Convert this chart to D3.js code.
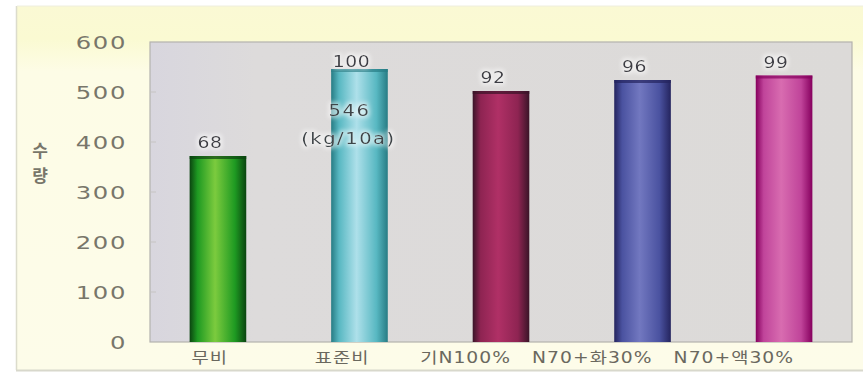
<!DOCTYPE html>
<html>
<head>
<meta charset="utf-8">
<script src="https://cdn.jsdelivr.net/npm/d3@7"></script>
<style>
  html, body { margin: 0; padding: 0; background: #ffffff; }
  svg { display: block; }
  text { font-family: "DejaVu Sans", "Noto Sans CJK KR", sans-serif; }
</style>
</head>
<body>
<svg id="chart" width="863" height="378"></svg>
<script>
// Yield per treatment (kg/10a) and yield index relative to the standard plot
const categories = ["무비", "표준비", "기N100%", "N70+화30%", "N70+액30%"];
const yields = [372, 546, 502, 524, 533];
const indexLabels = ["68", "100", "92", "96", "99"];
const yTicks = [0, 100, 200, 300, 400, 500, 600];
// Cylinder shading per bar: [edge, body, highlight]
const barShades = [
  ["#0b4410", "#1e9a22", "#7ccb3e"],
  ["#277c84", "#58b8c2", "#aee0ea"],
  ["#3a1428", "#8e2452", "#b03066"],
  ["#24245e", "#4a52a0", "#7278c0"],
  ["#86005e", "#c0449a", "#d86cb0"]
];

const svg = d3.select("#chart");
const W = 863, H = 378;
const plot = { left: 150, right: 852, top: 42, bottom: 342 };

const defs = svg.append("defs");

// text drawn with horizontally widened glyphs
function wideText(parent, data, opts) {
  const g = parent.append("g")
    .attr("fill", opts.fill)
    .attr("font-size", opts.size)
    .attr("letter-spacing", opts.ls || 0);
  if (opts.filter) g.attr("filter", opts.filter);
  g.selectAll("g").data(data).join("g")
    .attr("transform", (d, i) => `translate(${opts.x(d, i)},${opts.y(d, i)}) scale(${opts.sx},1)`)
    .append("text")
    .attr("text-anchor", opts.anchor || "middle")
    .text((d, i) => opts.text(d, i));
  return g;
}

// outer panel: cream card with a yellow band fading down from the top
const band = defs.append("linearGradient").attr("id", "band")
  .attr("x1", 0).attr("y1", 0).attr("x2", 0).attr("y2", 1);
band.append("stop").attr("offset", 0).attr("stop-color", "#faf9d4");
band.append("stop").attr("offset", 0.09).attr("stop-color", "#fafad2");
band.append("stop").attr("offset", 0.18).attr("stop-color", "#fdfce6");
band.append("stop").attr("offset", 1).attr("stop-color", "#fdfce9");

svg.append("rect").attr("x", 0).attr("y", 0).attr("width", W).attr("height", H).attr("fill", "#ffffff");
svg.append("rect").attr("x", 17).attr("y", 6).attr("width", W - 17).attr("height", 364)
  .attr("fill", "url(#band)");
svg.append("line").attr("x1", 16.5).attr("x2", 16.5).attr("y1", 6).attr("y2", 370)
  .attr("stroke", "#dcdccc").attr("stroke-width", 1.5);
svg.append("line").attr("x1", 16).attr("x2", W).attr("y1", 370.5).attr("y2", 370.5)
  .attr("stroke", "#d8d8cc").attr("stroke-width", 2);
svg.append("line").attr("x1", 17).attr("x2", W).attr("y1", 6).attr("y2", 6)
  .attr("stroke", "#eeeede").attr("stroke-width", 1);

// plot area
const plotBg = defs.append("linearGradient").attr("id", "plotbg")
  .attr("x1", 0).attr("y1", 0).attr("x2", 1).attr("y2", 0);
plotBg.append("stop").attr("offset", 0).attr("stop-color", "#d8d6de");
plotBg.append("stop").attr("offset", 0.15).attr("stop-color", "#dddbdb");
plotBg.append("stop").attr("offset", 1).attr("stop-color", "#dcdad8");

svg.append("rect")
  .attr("x", plot.left).attr("y", plot.top)
  .attr("width", plot.right - plot.left).attr("height", plot.bottom - plot.top)
  .attr("fill", "url(#plotbg)")
  .attr("stroke", "#b4b2ae").attr("stroke-width", 1.2);

const x = d3.scaleBand()
  .domain(categories)
  .range([plot.left, plot.right])
  .paddingInner(0.6)
  .paddingOuter(0.28);

const y = d3.scaleLinear().domain([0, 600]).range([plot.bottom, plot.top]);

// faint tick marks along the inside of the left edge
svg.append("g").selectAll("line").data(yTicks.slice(1, -1)).join("line")
  .attr("x1", plot.left + 1).attr("x2", plot.left + 6)
  .attr("y1", d => y(d)).attr("y2", d => y(d))
  .attr("stroke", "#c6c4c2").attr("stroke-width", 1);

// y tick labels
wideText(svg, yTicks, {
  x: () => 127, y: d => y(d) + 6.5, sx: 1.35, anchor: "end",
  size: 18, ls: 1.2, fill: "#78766a", text: d => d
});

// y axis title, stacked vertically
svg.append("g").selectAll("text").data(["수", "량"]).join("text")
  .attr("x", 40).attr("y", (d, i) => 157 + i * 25)
  .attr("text-anchor", "middle")
  .attr("font-size", 17).attr("font-weight", "bold")
  .attr("fill", "#78766a")
  .text(d => d);

// bar gradients
barShades.forEach((s, i) => {
  const g = defs.append("linearGradient").attr("id", "bar" + i)
    .attr("x1", 0).attr("y1", 0).attr("x2", 1).attr("y2", 0);
  g.append("stop").attr("offset", 0).attr("stop-color", s[0]);
  g.append("stop").attr("offset", 0.14).attr("stop-color", s[1]);
  g.append("stop").attr("offset", 0.45).attr("stop-color", s[2]);
  g.append("stop").attr("offset", 0.8).attr("stop-color", s[1]);
  g.append("stop").attr("offset", 1).attr("stop-color", s[0]);
});

const bars = svg.append("g");
bars.selectAll("rect.bar").data(yields).join("rect")
  .attr("class", "bar")
  .attr("x", (d, i) => x(categories[i]))
  .attr("y", d => y(d))
  .attr("width", x.bandwidth())
  .attr("height", d => y(0) - y(d))
  .attr("fill", (d, i) => `url(#bar${i})`);

// darker cap along each bar top
bars.selectAll("rect.cap").data(yields).join("rect")
  .attr("class", "cap")
  .attr("x", (d, i) => x(categories[i]))
  .attr("y", d => y(d))
  .attr("width", x.bandwidth())
  .attr("height", 3)
  .attr("fill", (d, i) => barShades[i][0])
  .attr("opacity", 0.7);

// soft glow behind the labels
const glow = defs.append("filter").attr("id", "glow")
  .attr("x", "-30%").attr("y", "-50%").attr("width", "160%").attr("height", "200%");
glow.append("feMorphology").attr("in", "SourceAlpha").attr("operator", "dilate").attr("radius", 2).attr("result", "d");
glow.append("feGaussianBlur").attr("in", "d").attr("stdDeviation", 2).attr("result", "b");
glow.append("feFlood").attr("flood-color", "#ffffff").attr("flood-opacity", 0.55);
glow.append("feComposite").attr("in2", "b").attr("operator", "in").attr("result", "w");
const gm = glow.append("feMerge");
gm.append("feMergeNode").attr("in", "w");
gm.append("feMergeNode").attr("in", "SourceGraphic");

// index labels above bars
wideText(svg, yields, {
  x: (d, i) => x(categories[i]) + x.bandwidth() / 2 - 8,
  y: (d, i) => y(d) - (i === 1 ? 2 : 8),
  sx: 1.25, size: 15, ls: 0.5, fill: "#3e3e44", filter: "url(#glow)",
  text: (d, i) => indexLabels[i]
});

// standard-plot yield annotation
const stdX = x(categories[1]) + x.bandwidth() / 2;
const annLines = [String(yields[1]), "(kg/10a)"];
wideText(svg, annLines, {
  x: (d, i) => stdX - (i === 0 ? 10 : 11),
  y: (d, i) => 116 + i * 28,
  sx: 1.3, size: 15, ls: 1.2, fill: "#3e4448", filter: "url(#glow)",
  text: d => d
});

// category labels
wideText(svg, categories, {
  x: d => x(d) + x.bandwidth() / 2 + 10,
  y: () => 363, sx: 1.25, anchor: "end",
  size: 15, ls: 0.8, fill: "#6a685e", text: d => d
});
</script>
</body>
</html>
